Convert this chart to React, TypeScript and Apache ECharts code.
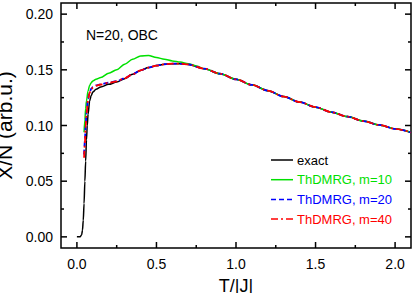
import React, { useEffect, useRef } from "react";
import * as echarts from "echarts";

// Exact diagonalization curve
const exactT = [0.0, 0.02, 0.03, 0.035, 0.04, 0.045, 0.05, 0.055, 0.06, 0.065, 0.07, 0.08, 0.09, 0.1, 0.12, 0.15, 0.2, 0.25, 0.3, 0.35, 0.4, 0.45, 0.5, 0.55, 0.6, 0.65, 0.7, 0.8, 0.9, 1.0, 1.1, 1.2, 1.3, 1.4, 1.5, 1.6, 1.7, 1.8, 1.9, 2.0, 2.1];
const exactX = [0.0, 0.0, 0.002, 0.006, 0.015, 0.03, 0.05, 0.068, 0.087, 0.1, 0.11, 0.122, 0.127, 0.13, 0.1325, 0.1345, 0.137, 0.139, 0.142, 0.146, 0.1495, 0.152, 0.1538, 0.155, 0.1555, 0.1555, 0.1548, 0.151, 0.1465, 0.1415, 0.1365, 0.1313, 0.126, 0.121, 0.1165, 0.112, 0.108, 0.104, 0.1005, 0.097, 0.0937];

// ThDMRG m=10
const m10T = [0.045, 0.05, 0.055, 0.06, 0.07, 0.08, 0.09, 0.1, 0.12, 0.15, 0.2, 0.25, 0.3, 0.35, 0.4, 0.45, 0.5, 0.55, 0.6, 0.65, 0.7, 0.75, 0.8, 0.9, 1.0, 1.1, 1.2, 1.3, 1.4, 1.5, 1.6, 1.7, 1.8, 1.9, 2.0, 2.1];
const m10X = [0.094, 0.105, 0.115, 0.122, 0.131, 0.136, 0.1385, 0.14, 0.1415, 0.143, 0.147, 0.15, 0.155, 0.1595, 0.1625, 0.1628, 0.161, 0.1595, 0.158, 0.157, 0.1555, 0.1535, 0.151, 0.1465, 0.1415, 0.1365, 0.1313, 0.126, 0.121, 0.1165, 0.112, 0.108, 0.104, 0.1005, 0.097, 0.0937];

// ThDMRG m=20
const m20T = [0.045, 0.05, 0.055, 0.06, 0.07, 0.08, 0.09, 0.1, 0.12, 0.15, 0.2, 0.25, 0.3, 0.35, 0.4, 0.45, 0.5, 0.55, 0.6, 0.65, 0.7, 0.8, 0.9, 1.0, 1.1, 1.2, 1.3, 1.4, 1.5, 1.6, 1.7, 1.8, 1.9, 2.0, 2.1];
const m20X = [0.074, 0.086, 0.1, 0.111, 0.124, 0.13, 0.133, 0.1345, 0.136, 0.137, 0.1385, 0.1398, 0.1425, 0.146, 0.1495, 0.152, 0.1538, 0.155, 0.1555, 0.1555, 0.1548, 0.151, 0.1465, 0.1415, 0.1365, 0.1313, 0.126, 0.121, 0.1165, 0.112, 0.108, 0.104, 0.1005, 0.097, 0.0937];

// ThDMRG m=40
const m40T = [0.045, 0.05, 0.055, 0.06, 0.07, 0.08, 0.09, 0.1, 0.12, 0.15, 0.2, 0.25, 0.3, 0.35, 0.4, 0.45, 0.5, 0.55, 0.6, 0.65, 0.7, 0.8, 0.9, 1.0, 1.1, 1.2, 1.3, 1.4, 1.5, 1.6, 1.7, 1.8, 1.9, 2.0, 2.1];
const m40X = [0.071, 0.084, 0.099, 0.11, 0.123, 0.1295, 0.1325, 0.134, 0.1357, 0.1368, 0.1383, 0.1397, 0.1424, 0.146, 0.1495, 0.152, 0.1538, 0.155, 0.1555, 0.1555, 0.1548, 0.151, 0.1465, 0.1415, 0.1365, 0.1313, 0.126, 0.121, 0.1165, 0.112, 0.108, 0.104, 0.1005, 0.097, 0.0937];

const xMajor = [0.0, 0.5, 1.0, 1.5, 2.0];
const xMinor = [0.25, 0.75, 1.25, 1.75];
const yMajor = [0.0, 0.05, 0.1, 0.15, 0.2];
const yMinor = [0.025, 0.075, 0.125, 0.175];

const seriesNames = ["exact", "ThDMRG, m=10", "ThDMRG, m=20", "ThDMRG, m=40"];
const seriesColors = ["#000000", "#00e000", "#0000ff", "#ff0000"];
const seriesDash: (number[] | null)[] = [null, null, [5, 3], [7, 3, 2, 3]];

const X_MIN = -0.1;
const X_MAX = 2.1;
const Y_MIN = -0.01;
const Y_MAX = 0.21;

const FONT = "Liberation Sans, Arial, sans-serif";

const zip = (a: number[], b: number[]) => a.map((t, i) => [t, b[i]]);

export default function App() {
  const ref = useRef<HTMLDivElement>(null);
  useEffect(() => {
    if (!ref.current) return;
    const chart = echarts.init(ref.current, null, { renderer: "svg" });

    const datasets = [zip(exactT, exactX), zip(m10T, m10X), zip(m20T, m20X), zip(m40T, m40X)];
    const series: any[] = datasets.map((data, i) => ({
      name: seriesNames[i],
      type: "line",
      data,
      symbol: "none",
      smooth: 0.3,
      smoothMonotone: "x",
      lineStyle: { color: seriesColors[i], width: i < 2 ? 1.5 : 1.8, type: seriesDash[i] || "solid" },
      itemStyle: { color: seriesColors[i] },
      z: 2,
    }));

    // Tick marks on all four sides, placed through the axes' scales
    const xTickSeries = (vals: number[], len: number) => ({
      type: "custom",
      silent: true,
      clip: false,
      z: 5,
      data: vals.map((v) => [v, Y_MIN]),
      renderItem: (_p: any, api: any) => {
        const v = api.value(0);
        const b = api.coord([v, Y_MIN]);
        const t = api.coord([v, Y_MAX]);
        return {
          type: "group",
          children: [
            { type: "line", shape: { x1: b[0], y1: b[1], x2: b[0], y2: b[1] - len }, style: { stroke: "#000", lineWidth: 1.5 } },
            { type: "line", shape: { x1: t[0], y1: t[1], x2: t[0], y2: t[1] + len }, style: { stroke: "#000", lineWidth: 1.5 } },
          ],
        };
      },
    });
    const yTickSeries = (vals: number[], len: number) => ({
      type: "custom",
      silent: true,
      clip: false,
      z: 5,
      data: vals.map((v) => [X_MIN, v]),
      renderItem: (_p: any, api: any) => {
        const v = api.value(1);
        const l = api.coord([X_MIN, v]);
        const r = api.coord([X_MAX, v]);
        return {
          type: "group",
          children: [
            { type: "line", shape: { x1: l[0], y1: l[1], x2: l[0] + len, y2: l[1] }, style: { stroke: "#000", lineWidth: 1.5 } },
            { type: "line", shape: { x1: r[0], y1: r[1], x2: r[0] - len, y2: r[1] }, style: { stroke: "#000", lineWidth: 1.5 } },
          ],
        };
      },
    });
    series.push(xTickSeries(xMajor, 6), xTickSeries(xMinor, 3), yTickSeries(yMajor, 6), yTickSeries(yMinor, 3));

    const legendTop = 160;
    const legendStep = 19.7;
    const legendGraphics: any[] = [];
    seriesNames.forEach((name, i) => {
      const y = legendTop + i * legendStep;
      legendGraphics.push({
        type: "line",
        shape: { x1: 271, y1: y, x2: 293, y2: y },
        style: { stroke: seriesColors[i], lineWidth: 1.5, lineDash: seriesDash[i] || null },
        z: 100,
      });
      legendGraphics.push({
        type: "text",
        x: 297,
        y,
        style: { text: name, fill: seriesColors[i], fontSize: 13, fontFamily: FONT, verticalAlign: "middle", textAlign: "left" },
        z: 100,
      });
    });

    chart.setOption({
      animation: false,
      backgroundColor: "#fff",
      grid: { show: true, borderColor: "#000", borderWidth: 1.5, backgroundColor: "transparent", left: 61, top: 3, right: 4, bottom: 45, containLabel: false, outerBoundsMode: "none" },
      xAxis: {
        type: "value",
        min: X_MIN,
        max: X_MAX,
        axisLine: { show: false, onZero: false },
        splitLine: { show: false },
        axisTick: { show: false },
        axisLabel: { customValues: xMajor, formatter: (v: number) => v.toFixed(1), color: "#000", fontSize: 14, fontFamily: FONT, margin: 9 },
        name: "T/|J|",
        nameLocation: "middle",
        nameGap: 29,
        nameTextStyle: { fontSize: 18, fontFamily: FONT, color: "#000" },
      },
      yAxis: {
        type: "value",
        min: Y_MIN,
        max: Y_MAX,
        axisLine: { show: false, onZero: false },
        splitLine: { show: false },
        axisTick: { show: false },
        axisLabel: { customValues: yMajor, formatter: (v: number) => v.toFixed(2), color: "#000", fontSize: 14, fontFamily: FONT, margin: 8 },
        name: "X/N (arb.u.)",
        nameLocation: "middle",
        nameGap: 38,
        nameTextStyle: { fontSize: 21, fontFamily: FONT, color: "#000" },
      },
      graphic: [
        { type: "text", x: 86, y: 35, style: { text: "N=20, OBC", fontSize: 14, fontFamily: FONT, fill: "#000", verticalAlign: "middle" } },
        ...legendGraphics,
      ],
      series,
    });
    return () => chart.dispose();
  }, []);
  return <div ref={ref} style={{ width: 415, height: 293, position: "absolute", left: 0, top: 0 }} />;
}
